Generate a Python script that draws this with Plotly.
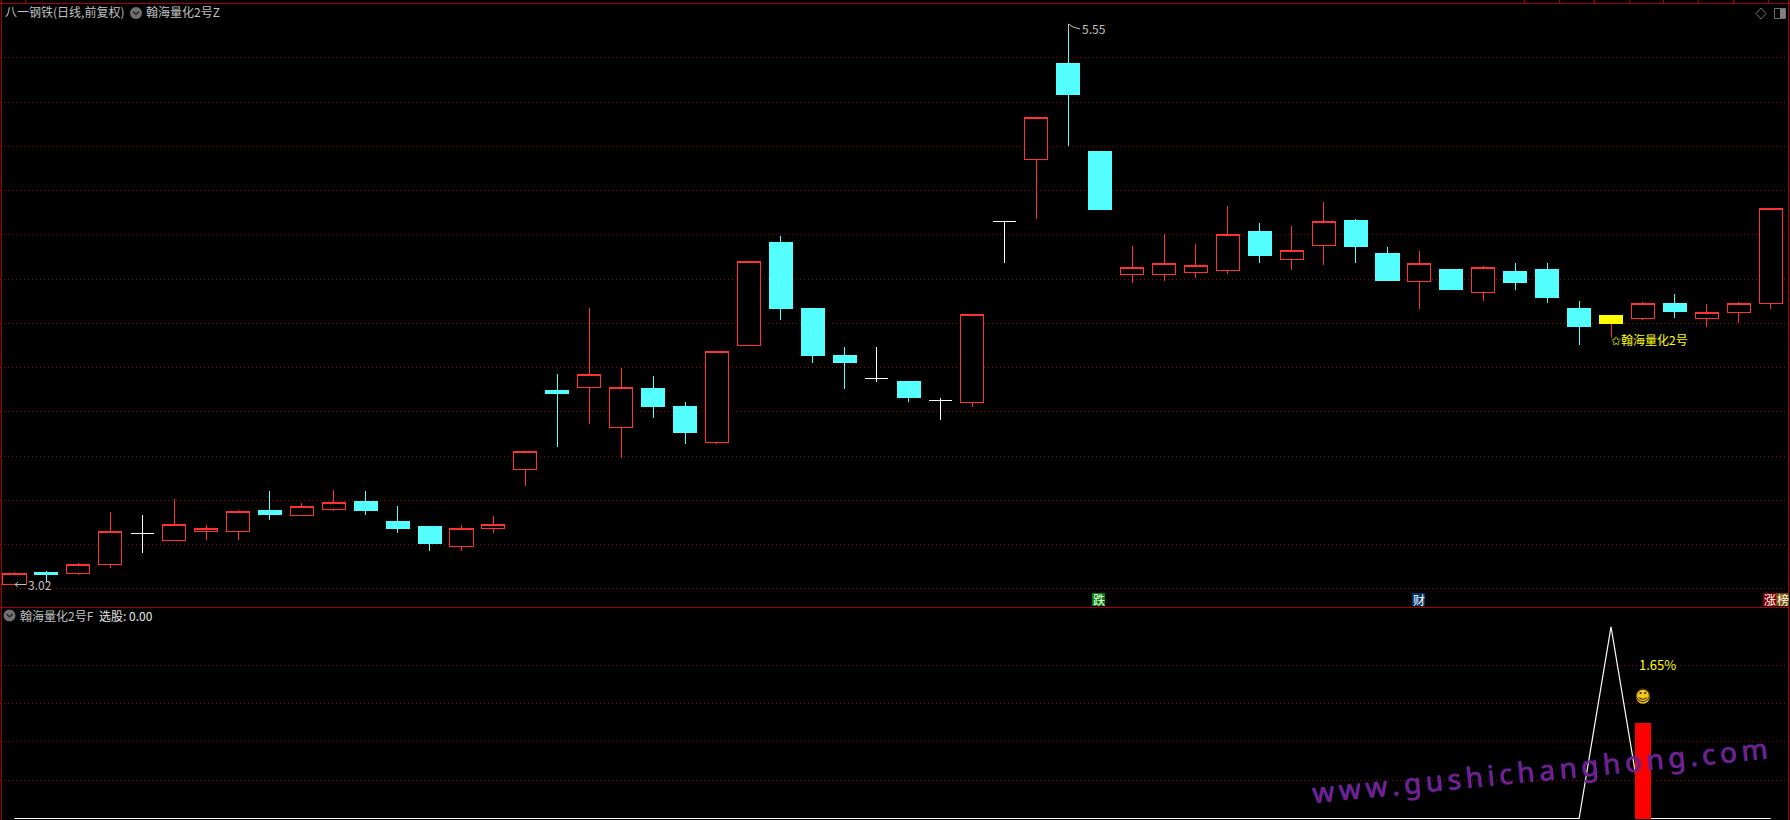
import plotly.graph_objects as go

W, H = 1790, 820

stock_name = "八一钢铁(日线,前复权)"
main_indicator = "翰海量化2号Z"
sub_indicator = "翰海量化2号F"
sub_value_label = "选股: 0.00"
signal_label = "✩翰海量化2号"
pct_label = "1.65%"
watermark = "www.gushichanghong.com"

index = list(range(56))
highs = [3.077,3.081,3.117,3.348,3.334,3.407,3.289,3.357,3.443,3.388,3.447,3.443,3.375,3.284,3.289,3.330,
         3.622,3.972,4.270,3.999,3.962,3.845,4.074,4.481,4.595,4.265,4.094,4.094,3.935,3.863,4.241,4.662,
         5.132,5.554,4.975,4.550,4.603,4.559,4.731,4.654,4.640,4.749,4.672,4.546,4.527,4.442,4.460,4.473,
         4.473,4.301,4.238,4.297,4.333,4.288,4.297,4.720]
tops = [3.071,3.072,3.111,3.261,3.251,3.292,3.274,3.351,3.352,3.374,3.392,3.393,3.303,3.284,3.274,3.292,
        3.622,3.895,3.970,3.911,3.904,3.822,4.074,4.481,4.564,4.265,4.053,3.952,3.935,3.853,4.241,4.662,
        5.132,5.373,4.975,4.454,4.472,4.463,4.603,4.613,4.531,4.662,4.663,4.514,4.472,4.442,4.454,4.433,
        4.442,4.265,4.234,4.291,4.292,4.250,4.291,4.720]
bottoms = [3.020,3.063,3.069,3.110,3.251,3.218,3.259,3.259,3.334,3.331,3.358,3.352,3.275,3.203,3.191,3.272,
           3.539,3.881,3.910,3.729,3.822,3.705,3.661,4.099,4.265,4.053,4.021,3.952,3.863,3.853,3.842,4.662,
           4.940,5.233,4.713,4.420,4.420,4.429,4.438,4.505,4.488,4.551,4.546,4.392,4.389,4.351,4.339,4.383,
           4.315,4.184,4.198,4.221,4.252,4.221,4.249,4.289]
lows = [3.020,3.033,3.063,3.096,3.164,3.218,3.221,3.221,3.312,3.331,3.352,3.334,3.253,3.171,3.171,3.253,
        3.467,3.642,3.746,3.592,3.773,3.655,3.655,4.099,4.216,4.021,3.904,3.935,3.845,3.764,3.822,4.473,
        4.672,5.002,4.713,4.383,4.392,4.405,4.424,4.473,4.442,4.464,4.473,4.392,4.265,4.351,4.301,4.351,
        4.292,4.103,4.134,4.216,4.225,4.184,4.202,4.265]
groups = ["r","c","r","r","w","r","r","r","c","r","r","c","c","c","r","r",
          "r","c","r","r","c","c","r","r","c","c","c","w","c","w","r","w",
          "r","c","c","r","r","r","r","c","r","r","c","c","r","c","r","c",
          "c","c","r","r","c","r","r","r"]
signal_candle = 50

selector = [0]*49 + [0, 1, 0, 0, 0, 0, 0]
volume_bar_x = [51]
volume_bar_y = [0.498]

main_grid = [3.0,3.2,3.4,3.6,3.8,4.0,4.2,4.4,4.6,4.8,5.0,5.2,5.4]
sub_grid = [0.2,0.4,0.6,0.8]

RED, CYAN, WHITE, YEL = "#ff3232", "#54ffff", "#ffffff", "#ffff00"
GRID, BORDER, GRAY = "#a00000", "#a80000", "#c0c0c0"
FONT = "Noto Sans CJK SC"


def candle(idx, color, name, hollow):
    o = [bottoms[i] if hollow else tops[i] for i in idx]
    c = [tops[i] if hollow else bottoms[i] for i in idx]
    side = dict(line=dict(color=color, width=1), fillcolor="#000000" if hollow else color)
    return go.Candlestick(x=idx, open=o, close=c, high=[highs[i] for i in idx], low=[lows[i] for i in idx],
                          increasing=side, decreasing=side, whiskerwidth=0, name=name,
                          showlegend=False, hoverinfo="skip", xaxis="x", yaxis="y")


fig = go.Figure()
for key, color, hollow in (("r", RED, True), ("c", CYAN, False), ("w", WHITE, True)):
    fig.add_trace(candle([i for i in index if groups[i] == key], color, key, hollow))
fig.add_trace(go.Candlestick(x=[signal_candle], open=[tops[signal_candle]], close=[bottoms[signal_candle]],
                             high=[tops[signal_candle]], low=[bottoms[signal_candle]], whiskerwidth=0,
                             decreasing=dict(line=dict(color=YEL, width=1), fillcolor=YEL),
                             increasing=dict(line=dict(color=YEL, width=1), fillcolor=YEL),
                             showlegend=False, hoverinfo="skip", xaxis="x", yaxis="y"))
fig.add_trace(go.Scatter(x=index, y=selector, mode="lines", line=dict(color=WHITE, width=1.2),
                         showlegend=False, hoverinfo="skip", xaxis="x", yaxis="y2"))
fig.add_trace(go.Bar(x=volume_bar_x, y=volume_bar_y, width=0.53, marker=dict(color="#ff0000", line=dict(width=0)),
                     showlegend=False, hoverinfo="skip", xaxis="x", yaxis="y3"))
fig.add_trace(go.Scatter(x=[51], y=[0.635], mode="markers+text", marker=dict(size=14, color="#f0c81e"),
                         text=["☺"], textposition="middle center",
                         textfont=dict(size=16, color="#4a3500", family="DejaVu Sans"),
                         showlegend=False, hoverinfo="skip", xaxis="x", yaxis="y3"))


def px(x, y):
    return x / W, 1 - y / H


def label(x, y, text, color=GRAY, size=12, anchor="left", **kw):
    xp, yp = px(x, y)
    fig.add_annotation(x=xp, y=yp, xref="paper", yref="paper", text=text, showarrow=False, xanchor=anchor,
                       yanchor="middle", font=dict(color=color, size=size, family=kw.pop("family", FONT)), **kw)


def seg(x0, y0, x1, y1, color=BORDER, width=1):
    a, b = px(x0, y0), px(x1, y1)
    fig.add_shape(type="line", xref="paper", yref="paper", x0=a[0], y0=a[1], x1=b[0], y1=b[1],
                  line=dict(color=color, width=width), layer="above")


def box(x0, y0, x1, y1, color, outline=None):
    a, b = px(x0, y0), px(x1, y1)
    fig.add_shape(type="rect", xref="paper", yref="paper", x0=a[0], y0=a[1], x1=b[0], y1=b[1],
                  fillcolor=color, line=dict(width=1 if outline else 0, color=outline), layer="above")


def icon(x, y):
    a, b = px(x - 6, y - 6), px(x + 6, y + 6)
    fig.add_shape(type="circle", xref="paper", yref="paper", x0=a[0], y0=a[1], x1=b[0], y1=b[1],
                  fillcolor="#707070", line=dict(width=0), layer="above")
    seg(x - 3, y - 1.5, x, y + 1.5, "#202020", 1.3)
    seg(x, y + 1.5, x + 3, y - 1.5, "#202020", 1.3)


seg(0, 3.5, W, 3.5)
seg(0, 607.5, W, 607.5)
seg(1.5, 0, 1.5, H)
seg(1788.5, 0, 1788.5, H)
for tx in [25, 1524, 1559, 1594, 1629, 1663, 1698, 1733, 1768]:
    seg(tx + .5, 0, tx + .5, 3)

label(3, 11.5, stock_name)
icon(136, 13)
label(144, 11.5, main_indicator)
icon(9.5, 615.5)
label(18, 615.5, sub_indicator)
label(97, 615.5, sub_value_label, "#e6e6e6")
label(1609, 340, signal_label, YEL)
label(1637, 664, pct_label, YEL, 13)

fig.add_annotation(x=33, y=highs[33], xref="x", yref="y", text=f"{highs[33]:.2f}", showarrow=False, xanchor="left",
                   yanchor="middle", xshift=12, yshift=-5, font=dict(color=GRAY, size=12, family=FONT))
fig.add_annotation(x=0, y=lows[0], xref="x", yref="y", text=f"{lows[0]:.2f}", showarrow=False, xanchor="left",
                   yanchor="middle", xshift=11, yshift=0, font=dict(color=GRAY, size=12, family=FONT))
seg(1068.5, 24, 1068.5, 31, GRAY)
seg(1068.5, 24, 1073, 27, GRAY)
seg(1073, 27, 1080, 29, GRAY)
seg(15, 584.5, 26, 584.5, GRAY)
seg(15, 584.5, 18, 582, GRAY)
seg(15, 584.5, 18, 587, GRAY)

for x, ch, color in [(1092, "跌", "#008000"), (1412, "财", "#003468"), (1763, "涨", "#800000"), (1776, "榜", "#7a4a00")]:
    box(x, 593, x + 13, 606, color)
    label(x + 6.5, 599.5, ch, "#ffffff", 12, "center")

a, b, c, d = px(1761, 8), px(1766, 13.5), px(1761, 19), px(1756, 13.5)
fig.add_shape(type="path", xref="paper", yref="paper", layer="above", line=dict(color="#707070", width=1),
              path=f"M{a[0]},{a[1]} L{b[0]},{b[1]} L{c[0]},{c[1]} L{d[0]},{d[1]} Z")
box(1774.5, 8.5, 1785.5, 18.5, "#000000", "#707070")
box(1780, 9, 1785, 18, "#808080")

xw, yw = px(1539, 770)
fig.add_annotation(x=xw, y=yw, xref="paper", yref="paper", text="\u2009".join(watermark), showarrow=False,
                   textangle=-5.6, xanchor="center", yanchor="middle",
                   font=dict(size=28, color="#801a80", family="Noto Sans", weight=400,
                             shadow="0 0 1px #2840d0, 0 0 1px #2840d0"))

fig.update_layout(
    width=W, height=H, margin=dict(l=0, r=0, t=0, b=0), paper_bgcolor="#000000", plot_bgcolor="#000000",
    showlegend=False, boxmode="overlay", boxgap=0.15, boxgroupgap=0.15, bargap=0,
    xaxis=dict(domain=[0, 1], range=[-0.454, 55.605], visible=False, rangeslider=dict(visible=False),
               anchor="y2", showgrid=False, zeroline=False, fixedrange=True),
    yaxis=dict(domain=[1 - 607 / H, 1 - 3 / H], range=[2.918, 5.648], tickvals=main_grid, showticklabels=False,
               showgrid=True, gridcolor=GRID, griddash="1px,3px", gridwidth=1, zeroline=False, ticks="", anchor="x"),
    yaxis2=dict(domain=[0, 1 - 607 / H], range=[-0.0078, 1.103], tickvals=sub_grid, showticklabels=False,
                showgrid=True, gridcolor=GRID, griddash="1px,3px", gridwidth=1, zeroline=False, ticks="", anchor="x"),
    yaxis3=dict(overlaying="y2", range=[-0.0078, 1.103], visible=False, showgrid=False, zeroline=False, anchor="x"),
)

fig.write_html("out.html", config={"displayModeBar": False},
               post_script="document.body.style.margin='0';document.body.style.overflow='hidden';document.body.style.background='#000';"
                           "document.querySelectorAll('.boxlayer path').forEach(function(p){p.style.shapeRendering='crispEdges';});")
